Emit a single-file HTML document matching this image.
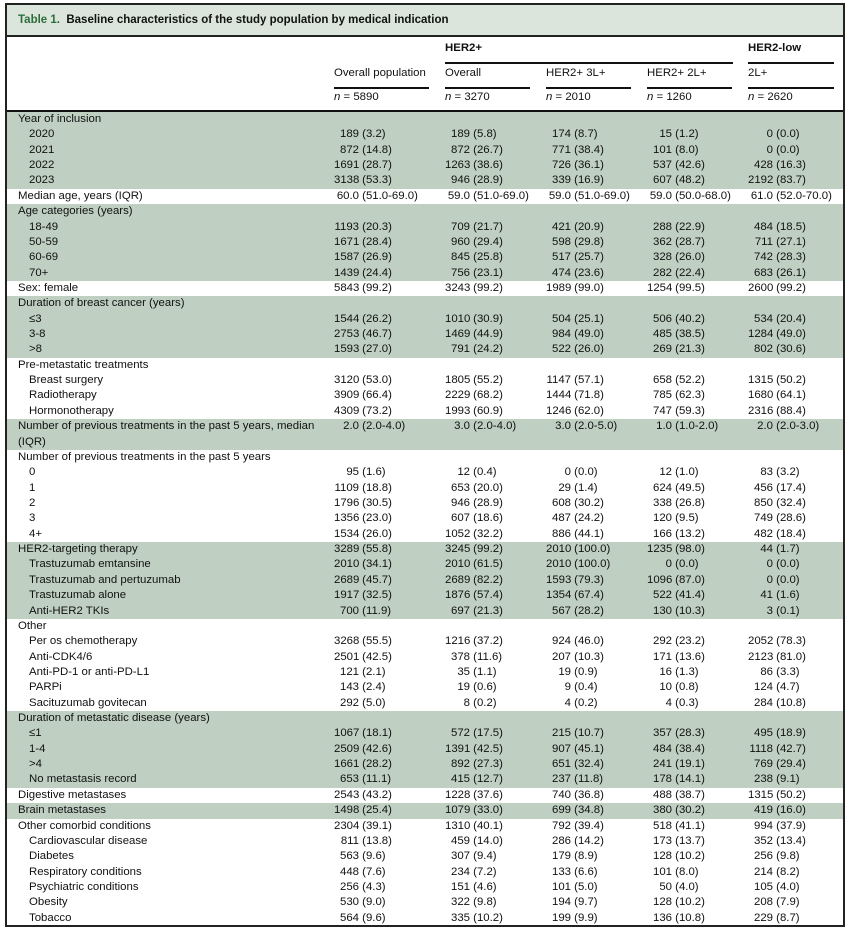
<!DOCTYPE html>
<html><head><meta charset="utf-8"><style>
*{box-sizing:border-box}
body{margin:0;width:847px;height:929px;background:#fff;font-family:"Liberation Sans",sans-serif;font-size:11.4px;color:#111;position:relative;overflow:hidden}
.frame{position:absolute;left:5px;top:3px;width:840px;height:924px;border:2px solid #222}
.title{position:absolute;left:7px;top:5px;width:836px;height:32px;background:#dce5dc;border-bottom:2px solid #222;font-weight:bold;font-size:11.5px;line-height:30px;padding-left:11px}
.title b{color:#2b6e3a}
.h{position:absolute;line-height:15px;white-space:nowrap}
.ln{position:absolute;background:#111}
.rows{position:absolute;left:7px;top:110px;width:836px;border-top:2px solid #111}
.r{position:relative;height:15.36px;line-height:15.36px}
.r p{position:absolute;left:11px;top:0;margin:0;white-space:nowrap}
.r p.in{left:22px}
.r span{position:absolute;top:0;white-space:pre}
.r span:nth-of-type(1){left:327px}
.r span:nth-of-type(2){left:438px}
.r span:nth-of-type(3){left:539px}
.r span:nth-of-type(4){left:640px}
.r span:nth-of-type(5){left:741px}
.r i{font-style:normal;display:inline-block;width:25px;text-align:right}
.s{background:#bfd0c2}
.t2{height:30.72px}
.t2 p{white-space:normal!important;width:315px}
</style></head><body>
<div class="frame"></div>
<div class="title"><b>Table 1.</b>&nbsp; Baseline characteristics of the study population by medical indication</div>

<div class="h" style="left:445px;top:41px;font-weight:bold">HER2+</div>
<div class="h" style="left:748px;top:41px;font-weight:bold">HER2-low</div>
<div class="ln" style="left:445px;top:62px;width:288px;height:1.5px"></div>
<div class="ln" style="left:748px;top:62px;width:86px;height:1.5px"></div>
<div class="h" style="left:334px;top:66px">Overall population</div>
<div class="h" style="left:445px;top:66px">Overall</div>
<div class="h" style="left:546px;top:66px">HER2+ 3L+</div>
<div class="h" style="left:647px;top:66px">HER2+ 2L+</div>
<div class="h" style="left:748px;top:66px">2L+</div>
<div class="ln" style="left:334px;top:87px;width:95px;height:2px"></div>
<div class="ln" style="left:445px;top:87px;width:85px;height:2px"></div>
<div class="ln" style="left:546px;top:87px;width:85px;height:2px"></div>
<div class="ln" style="left:647px;top:87px;width:85px;height:2px"></div>
<div class="ln" style="left:748px;top:87px;width:86px;height:2px"></div>
<div class="h" style="left:334px;top:90px"><em>n</em> = 5890</div>
<div class="h" style="left:445px;top:90px"><em>n</em> = 3270</div>
<div class="h" style="left:546px;top:90px"><em>n</em> = 2010</div>
<div class="h" style="left:647px;top:90px"><em>n</em> = 1260</div>
<div class="h" style="left:748px;top:90px"><em>n</em> = 2620</div>

<div class="rows">
<div class="r s"><p>Year of inclusion</p></div>
<div class="r s"><p class="in">2020</p><span><i>189</i> (3.2)</span><span><i>189</i> (5.8)</span><span><i>174</i> (8.7)</span><span><i>15</i> (1.2)</span><span><i>0</i> (0.0)</span></div>
<div class="r s"><p class="in">2021</p><span><i>872</i> (14.8)</span><span><i>872</i> (26.7)</span><span><i>771</i> (38.4)</span><span><i>101</i> (8.0)</span><span><i>0</i> (0.0)</span></div>
<div class="r s"><p class="in">2022</p><span><i>1691</i> (28.7)</span><span><i>1263</i> (38.6)</span><span><i>726</i> (36.1)</span><span><i>537</i> (42.6)</span><span><i>428</i> (16.3)</span></div>
<div class="r s"><p class="in">2023</p><span><i>3138</i> (53.3)</span><span><i>946</i> (28.9)</span><span><i>339</i> (16.9)</span><span><i>607</i> (48.2)</span><span><i>2192</i> (83.7)</span></div>
<div class="r"><p>Median age, years (IQR)</p><span><i>60.0</i> (51.0-69.0)</span><span><i>59.0</i> (51.0-69.0)</span><span><i>59.0</i> (51.0-69.0)</span><span><i>59.0</i> (50.0-68.0)</span><span><i>61.0</i> (52.0-70.0)</span></div>
<div class="r s"><p>Age categories (years)</p></div>
<div class="r s"><p class="in">18-49</p><span><i>1193</i> (20.3)</span><span><i>709</i> (21.7)</span><span><i>421</i> (20.9)</span><span><i>288</i> (22.9)</span><span><i>484</i> (18.5)</span></div>
<div class="r s"><p class="in">50-59</p><span><i>1671</i> (28.4)</span><span><i>960</i> (29.4)</span><span><i>598</i> (29.8)</span><span><i>362</i> (28.7)</span><span><i>711</i> (27.1)</span></div>
<div class="r s"><p class="in">60-69</p><span><i>1587</i> (26.9)</span><span><i>845</i> (25.8)</span><span><i>517</i> (25.7)</span><span><i>328</i> (26.0)</span><span><i>742</i> (28.3)</span></div>
<div class="r s"><p class="in">70+</p><span><i>1439</i> (24.4)</span><span><i>756</i> (23.1)</span><span><i>474</i> (23.6)</span><span><i>282</i> (22.4)</span><span><i>683</i> (26.1)</span></div>
<div class="r"><p>Sex: female</p><span><i>5843</i> (99.2)</span><span><i>3243</i> (99.2)</span><span><i>1989</i> (99.0)</span><span><i>1254</i> (99.5)</span><span><i>2600</i> (99.2)</span></div>
<div class="r s"><p>Duration of breast cancer (years)</p></div>
<div class="r s"><p class="in">≤3</p><span><i>1544</i> (26.2)</span><span><i>1010</i> (30.9)</span><span><i>504</i> (25.1)</span><span><i>506</i> (40.2)</span><span><i>534</i> (20.4)</span></div>
<div class="r s"><p class="in">3-8</p><span><i>2753</i> (46.7)</span><span><i>1469</i> (44.9)</span><span><i>984</i> (49.0)</span><span><i>485</i> (38.5)</span><span><i>1284</i> (49.0)</span></div>
<div class="r s"><p class="in">&gt;8</p><span><i>1593</i> (27.0)</span><span><i>791</i> (24.2)</span><span><i>522</i> (26.0)</span><span><i>269</i> (21.3)</span><span><i>802</i> (30.6)</span></div>
<div class="r"><p>Pre-metastatic treatments</p></div>
<div class="r"><p class="in">Breast surgery</p><span><i>3120</i> (53.0)</span><span><i>1805</i> (55.2)</span><span><i>1147</i> (57.1)</span><span><i>658</i> (52.2)</span><span><i>1315</i> (50.2)</span></div>
<div class="r"><p class="in">Radiotherapy</p><span><i>3909</i> (66.4)</span><span><i>2229</i> (68.2)</span><span><i>1444</i> (71.8)</span><span><i>785</i> (62.3)</span><span><i>1680</i> (64.1)</span></div>
<div class="r"><p class="in">Hormonotherapy</p><span><i>4309</i> (73.2)</span><span><i>1993</i> (60.9)</span><span><i>1246</i> (62.0)</span><span><i>747</i> (59.3)</span><span><i>2316</i> (88.4)</span></div>
<div class="r s t2"><p>Number of previous treatments in the past 5 years, median (IQR)</p><span><i>2.0</i> (2.0-4.0)</span><span><i>3.0</i> (2.0-4.0)</span><span><i>3.0</i> (2.0-5.0)</span><span><i>1.0</i> (1.0-2.0)</span><span><i>2.0</i> (2.0-3.0)</span></div>
<div class="r"><p>Number of previous treatments in the past 5 years</p></div>
<div class="r"><p class="in">0</p><span><i>95</i> (1.6)</span><span><i>12</i> (0.4)</span><span><i>0</i> (0.0)</span><span><i>12</i> (1.0)</span><span><i>83</i> (3.2)</span></div>
<div class="r"><p class="in">1</p><span><i>1109</i> (18.8)</span><span><i>653</i> (20.0)</span><span><i>29</i> (1.4)</span><span><i>624</i> (49.5)</span><span><i>456</i> (17.4)</span></div>
<div class="r"><p class="in">2</p><span><i>1796</i> (30.5)</span><span><i>946</i> (28.9)</span><span><i>608</i> (30.2)</span><span><i>338</i> (26.8)</span><span><i>850</i> (32.4)</span></div>
<div class="r"><p class="in">3</p><span><i>1356</i> (23.0)</span><span><i>607</i> (18.6)</span><span><i>487</i> (24.2)</span><span><i>120</i> (9.5)</span><span><i>749</i> (28.6)</span></div>
<div class="r"><p class="in">4+</p><span><i>1534</i> (26.0)</span><span><i>1052</i> (32.2)</span><span><i>886</i> (44.1)</span><span><i>166</i> (13.2)</span><span><i>482</i> (18.4)</span></div>
<div class="r s"><p>HER2-targeting therapy</p><span><i>3289</i> (55.8)</span><span><i>3245</i> (99.2)</span><span><i>2010</i> (100.0)</span><span><i>1235</i> (98.0)</span><span><i>44</i> (1.7)</span></div>
<div class="r s"><p class="in">Trastuzumab emtansine</p><span><i>2010</i> (34.1)</span><span><i>2010</i> (61.5)</span><span><i>2010</i> (100.0)</span><span><i>0</i> (0.0)</span><span><i>0</i> (0.0)</span></div>
<div class="r s"><p class="in">Trastuzumab and pertuzumab</p><span><i>2689</i> (45.7)</span><span><i>2689</i> (82.2)</span><span><i>1593</i> (79.3)</span><span><i>1096</i> (87.0)</span><span><i>0</i> (0.0)</span></div>
<div class="r s"><p class="in">Trastuzumab alone</p><span><i>1917</i> (32.5)</span><span><i>1876</i> (57.4)</span><span><i>1354</i> (67.4)</span><span><i>522</i> (41.4)</span><span><i>41</i> (1.6)</span></div>
<div class="r s"><p class="in">Anti-HER2 TKIs</p><span><i>700</i> (11.9)</span><span><i>697</i> (21.3)</span><span><i>567</i> (28.2)</span><span><i>130</i> (10.3)</span><span><i>3</i> (0.1)</span></div>
<div class="r"><p>Other</p></div>
<div class="r"><p class="in">Per os chemotherapy</p><span><i>3268</i> (55.5)</span><span><i>1216</i> (37.2)</span><span><i>924</i> (46.0)</span><span><i>292</i> (23.2)</span><span><i>2052</i> (78.3)</span></div>
<div class="r"><p class="in">Anti-CDK4/6</p><span><i>2501</i> (42.5)</span><span><i>378</i> (11.6)</span><span><i>207</i> (10.3)</span><span><i>171</i> (13.6)</span><span><i>2123</i> (81.0)</span></div>
<div class="r"><p class="in">Anti-PD-1 or anti-PD-L1</p><span><i>121</i> (2.1)</span><span><i>35</i> (1.1)</span><span><i>19</i> (0.9)</span><span><i>16</i> (1.3)</span><span><i>86</i> (3.3)</span></div>
<div class="r"><p class="in">PARPi</p><span><i>143</i> (2.4)</span><span><i>19</i> (0.6)</span><span><i>9</i> (0.4)</span><span><i>10</i> (0.8)</span><span><i>124</i> (4.7)</span></div>
<div class="r"><p class="in">Sacituzumab govitecan</p><span><i>292</i> (5.0)</span><span><i>8</i> (0.2)</span><span><i>4</i> (0.2)</span><span><i>4</i> (0.3)</span><span><i>284</i> (10.8)</span></div>
<div class="r s"><p>Duration of metastatic disease (years)</p></div>
<div class="r s"><p class="in">≤1</p><span><i>1067</i> (18.1)</span><span><i>572</i> (17.5)</span><span><i>215</i> (10.7)</span><span><i>357</i> (28.3)</span><span><i>495</i> (18.9)</span></div>
<div class="r s"><p class="in">1-4</p><span><i>2509</i> (42.6)</span><span><i>1391</i> (42.5)</span><span><i>907</i> (45.1)</span><span><i>484</i> (38.4)</span><span><i>1118</i> (42.7)</span></div>
<div class="r s"><p class="in">&gt;4</p><span><i>1661</i> (28.2)</span><span><i>892</i> (27.3)</span><span><i>651</i> (32.4)</span><span><i>241</i> (19.1)</span><span><i>769</i> (29.4)</span></div>
<div class="r s"><p class="in">No metastasis record</p><span><i>653</i> (11.1)</span><span><i>415</i> (12.7)</span><span><i>237</i> (11.8)</span><span><i>178</i> (14.1)</span><span><i>238</i> (9.1)</span></div>
<div class="r"><p>Digestive metastases</p><span><i>2543</i> (43.2)</span><span><i>1228</i> (37.6)</span><span><i>740</i> (36.8)</span><span><i>488</i> (38.7)</span><span><i>1315</i> (50.2)</span></div>
<div class="r s"><p>Brain metastases</p><span><i>1498</i> (25.4)</span><span><i>1079</i> (33.0)</span><span><i>699</i> (34.8)</span><span><i>380</i> (30.2)</span><span><i>419</i> (16.0)</span></div>
<div class="r"><p>Other comorbid conditions</p><span><i>2304</i> (39.1)</span><span><i>1310</i> (40.1)</span><span><i>792</i> (39.4)</span><span><i>518</i> (41.1)</span><span><i>994</i> (37.9)</span></div>
<div class="r"><p class="in">Cardiovascular disease</p><span><i>811</i> (13.8)</span><span><i>459</i> (14.0)</span><span><i>286</i> (14.2)</span><span><i>173</i> (13.7)</span><span><i>352</i> (13.4)</span></div>
<div class="r"><p class="in">Diabetes</p><span><i>563</i> (9.6)</span><span><i>307</i> (9.4)</span><span><i>179</i> (8.9)</span><span><i>128</i> (10.2)</span><span><i>256</i> (9.8)</span></div>
<div class="r"><p class="in">Respiratory conditions</p><span><i>448</i> (7.6)</span><span><i>234</i> (7.2)</span><span><i>133</i> (6.6)</span><span><i>101</i> (8.0)</span><span><i>214</i> (8.2)</span></div>
<div class="r"><p class="in">Psychiatric conditions</p><span><i>256</i> (4.3)</span><span><i>151</i> (4.6)</span><span><i>101</i> (5.0)</span><span><i>50</i> (4.0)</span><span><i>105</i> (4.0)</span></div>
<div class="r"><p class="in">Obesity</p><span><i>530</i> (9.0)</span><span><i>322</i> (9.8)</span><span><i>194</i> (9.7)</span><span><i>128</i> (10.2)</span><span><i>208</i> (7.9)</span></div>
<div class="r"><p class="in">Tobacco</p><span><i>564</i> (9.6)</span><span><i>335</i> (10.2)</span><span><i>199</i> (9.9)</span><span><i>136</i> (10.8)</span><span><i>229</i> (8.7)</span></div>
</div>
</body></html>
